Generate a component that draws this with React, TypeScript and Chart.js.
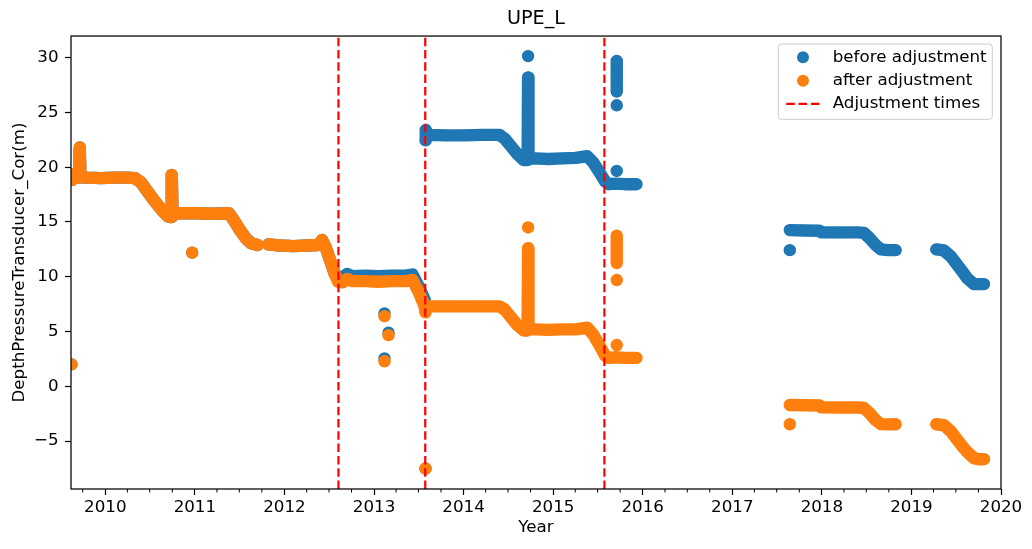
import React, { useEffect, useRef } from 'react';
import { Chart, registerables } from 'chart.js';

Chart.register(...registerables);

type Pt = [number, number];

// ---------- text ----------
const chartTitle = 'UPE_L';
const xAxisLabel = 'Year';
const yAxisLabel = 'DepthPressureTransducer_Cor(m)';
const seriesNames = ['before adjustment', 'after adjustment', 'Adjustment times'];

// ---------- axes ----------
const yearTicks = [2010, 2011, 2012, 2013, 2014, 2015, 2016, 2017, 2018, 2019, 2020];
const valueTicks = [-5, 0, 5, 10, 15, 20, 25, 30];
const X_MIN = 2009.617;
const X_MAX = 2020.0;
const Y_MIN = -9.37;
const Y_MAX = 31.97;

// ---------- adjustment times (decimal year) ----------
const adjustmentTimes = [2012.603, 2013.572, 2015.572];

// ---------- record identical in both series (before first adjustment) ----------
const sharedRecordA: Pt[] = [
  [2009.62, 19.35], [2009.628, 18.85], [2009.66, 19.1], [2009.705, 19.05], [2009.715, 21.8],
  [2009.722, 19.1], [2009.8, 19.05], [2009.95, 19.0], [2010.1, 19.05], [2010.25, 19.05],
  [2010.33, 19.0], [2010.4, 18.6], [2010.47, 17.8], [2010.55, 16.9], [2010.63, 16.1],
  [2010.7, 15.5], [2010.735, 15.45], [2010.742, 19.3], [2010.75, 15.8], [2010.85, 15.8],
  [2011.0, 15.8], [2011.2, 15.75], [2011.38, 15.8], [2011.44, 15.1], [2011.5, 14.3],
  [2011.57, 13.5], [2011.63, 13.05], [2011.7, 12.9],
];
const sharedRecordB: Pt[] = [
  [2011.82, 12.95], [2011.95, 12.85], [2012.1, 12.8], [2012.25, 12.85], [2012.38, 12.9],
  [2012.42, 13.35], [2012.46, 12.7], [2012.51, 11.5], [2012.56, 10.3],
];

// ---------- before adjustment ----------
const before2012: Pt[] = [
  [2012.6, 10.0], [2012.65, 9.95], [2012.7, 10.25], [2012.76, 10.05], [2012.9, 10.1],
  [2013.05, 10.05], [2013.2, 10.1], [2013.35, 10.1], [2013.43, 10.2], [2013.5, 9.1],
  [2013.565, 7.9],
];
const before2013to2015: Pt[] = [
  [2013.575, 22.45], [2013.578, 23.4], [2013.6, 22.95], [2013.8, 22.9], [2014.0, 22.9],
  [2014.2, 22.95], [2014.4, 22.95], [2014.46, 22.6], [2014.53, 21.9], [2014.6, 21.2],
  [2014.67, 20.65], [2014.715, 20.65], [2014.72, 28.2], [2014.725, 20.8], [2014.8, 20.8],
  [2014.95, 20.75], [2015.1, 20.8], [2015.25, 20.85], [2015.38, 21.0], [2015.45, 20.4],
  [2015.52, 19.5], [2015.58, 18.7], [2015.62, 18.45], [2015.7, 18.5], [2015.8, 18.45],
  [2015.93, 18.45],
];
const beforeSpike2015: Pt[] = [[2015.71, 29.7], [2015.71, 26.9]];
const before2017: Pt[] = [
  [2017.642, 14.26], [2017.8, 14.22], [2017.975, 14.2], [2017.995, 14.05], [2018.2, 14.05],
  [2018.4, 14.05], [2018.47, 14.0], [2018.53, 13.55], [2018.6, 12.9], [2018.66, 12.5],
  [2018.74, 12.43], [2018.823, 12.43],
];
const before2019: Pt[] = [
  [2019.278, 12.5], [2019.363, 12.4], [2019.44, 11.85], [2019.513, 11.07], [2019.57, 10.45],
  [2019.625, 9.85], [2019.698, 9.33], [2019.75, 9.33], [2019.81, 9.33],
];
const beforeIsolated: Pt[] = [
  [2009.622, 2.0], [2010.97, 12.2], [2013.117, 6.65], [2013.162, 4.9], [2013.117, 2.55],
  [2013.575, -7.5], [2014.72, 30.14], [2015.71, 25.65], [2015.71, 19.66], [2017.642, 12.43],
];

// ---------- after adjustment ----------
const after2012to2015: Pt[] = [
  [2012.6, 9.55], [2012.65, 9.5], [2012.7, 9.8], [2012.76, 9.6], [2012.9, 9.6],
  [2013.05, 9.55], [2013.2, 9.6], [2013.35, 9.6], [2013.43, 9.7], [2013.5, 8.6],
  [2013.565, 7.3], [2013.575, 6.75], [2013.59, 7.3], [2013.75, 7.3], [2013.95, 7.3],
  [2014.15, 7.3], [2014.4, 7.3], [2014.46, 7.0], [2014.53, 6.3], [2014.6, 5.6],
  [2014.67, 5.1], [2014.715, 5.1], [2014.72, 12.6], [2014.725, 5.2], [2014.8, 5.2],
  [2014.95, 5.15], [2015.1, 5.2], [2015.25, 5.2], [2015.38, 5.35], [2015.45, 4.7],
  [2015.52, 3.7], [2015.58, 2.8], [2015.62, 2.6], [2015.7, 2.65], [2015.8, 2.6],
  [2015.93, 2.6],
];
const afterSpike2015: Pt[] = [[2015.71, 13.75], [2015.71, 11.25]];
const after2017: Pt[] = [
  [2017.642, -1.7], [2017.8, -1.72], [2017.975, -1.75], [2017.995, -1.92], [2018.2, -1.93],
  [2018.4, -1.93], [2018.47, -1.98], [2018.53, -2.42], [2018.6, -3.08], [2018.66, -3.45],
  [2018.74, -3.47], [2018.823, -3.46],
];
const after2019: Pt[] = [
  [2019.278, -3.46], [2019.363, -3.55], [2019.44, -4.1], [2019.513, -4.89], [2019.57, -5.5],
  [2019.625, -6.0], [2019.698, -6.55], [2019.75, -6.65], [2019.81, -6.65],
];
const afterIsolated: Pt[] = [
  [2009.622, 2.0], [2010.97, 12.2], [2013.117, 6.4], [2013.162, 4.67], [2013.117, 2.29],
  [2013.575, -7.5], [2014.72, 14.5], [2015.71, 9.7], [2015.71, 3.77], [2017.642, -3.46],
];

const beforeSegments: Pt[][] = [
  sharedRecordA, [...sharedRecordB, ...before2012], before2013to2015, beforeSpike2015, before2017, before2019,
];
const afterSegments: Pt[][] = [
  sharedRecordA, [...sharedRecordB, ...after2012to2015], afterSpike2015, after2017, after2019,
];

// ---------- styles ----------
const BLUE = '#1f77b4';
const ORANGE = '#ff7f0e';
const RED = '#ff0000';
const FONT = "'DejaVu Sans', sans-serif";
const LABEL_SIZE = 16.7;
const MARKER_R = 5.7;
const BAND_W = 12.4;

type XY = { x: number; y: number | null };

function joinSegments(segments: Pt[][], isolated: Pt[]): XY[] {
  const all: Pt[][] = [...segments, ...isolated.map((p) => [p])];
  const out: XY[] = [];
  all.forEach((seg, i) => {
    if (i > 0) out.push({ x: seg[0][0], y: null });
    seg.forEach(([x, y]) => out.push({ x, y }));
  });
  return out;
}

function verticalLines(times: number[]): XY[] {
  const out: XY[] = [];
  times.forEach((t, i) => {
    if (i > 0) out.push({ x: t, y: null });
    out.push({ x: t, y: Y_MIN }, { x: t, y: Y_MAX });
  });
  return out;
}

function quarterValues(): number[] {
  const vals: number[] = [];
  for (let y = Math.floor(X_MIN); y <= Math.ceil(X_MAX); y++) {
    const start = Date.UTC(y, 0, 1);
    const len = Date.UTC(y + 1, 0, 1) - start;
    [3, 6, 9].forEach((m) => {
      const v = y + (Date.UTC(y, m, 1) - start) / len;
      if (v >= X_MIN && v <= X_MAX) vals.push(v);
    });
  }
  return vals;
}

const decorPlugin = {
  id: 'decor',
  afterDraw(chart: any) {
    const { ctx, chartArea: a, scales } = chart;
    ctx.save();
    // minor ticks (quarters)
    ctx.strokeStyle = '#000';
    ctx.lineWidth = 1;
    quarterValues().forEach((v) => {
      const px = scales.x.getPixelForValue(v);
      ctx.beginPath();
      ctx.moveTo(px, a.bottom);
      ctx.lineTo(px, a.bottom + 3.5);
      ctx.stroke();
    });
    // frame
    ctx.lineWidth = 1.25;
    ctx.strokeRect(a.left, a.top, a.right - a.left, a.bottom - a.top);

    // legend
    const bw = 214;
    const bh = 75.3;
    const bx = a.right - 8.7 - bw;
    const by = a.top + 8;
    const r = 3;
    ctx.beginPath();
    ctx.moveTo(bx + r, by);
    ctx.lineTo(bx + bw - r, by);
    ctx.arcTo(bx + bw, by, bx + bw, by + r, r);
    ctx.lineTo(bx + bw, by + bh - r);
    ctx.arcTo(bx + bw, by + bh, bx + bw - r, by + bh, r);
    ctx.lineTo(bx + r, by + bh);
    ctx.arcTo(bx, by + bh, bx, by + bh - r, r);
    ctx.lineTo(bx, by + r);
    ctx.arcTo(bx, by, bx + r, by, r);
    ctx.closePath();
    ctx.fillStyle = 'rgba(255,255,255,0.8)';
    ctx.fill();
    ctx.strokeStyle = '#cccccc';
    ctx.lineWidth = 1;
    ctx.stroke();

    const ds = chart.data.datasets;
    const rows = [13.3, 36.6, 59.9];
    ctx.font = `${LABEL_SIZE}px ${FONT}`;
    ctx.textBaseline = 'middle';
    ctx.textAlign = 'left';
    [0, 1, 2].forEach((i) => {
      const cy = by + rows[i];
      if (i < 2) {
        ctx.fillStyle = ds[i].borderColor;
        ctx.beginPath();
        ctx.arc(bx + 24.7, cy, 6, 0, Math.PI * 2);
        ctx.fill();
      } else {
        ctx.strokeStyle = ds[i].borderColor;
        ctx.lineWidth = 2.3;
        ctx.setLineDash([8.5, 3.8]);
        ctx.beginPath();
        ctx.moveTo(bx + 8, cy);
        ctx.lineTo(bx + 42, cy);
        ctx.stroke();
        ctx.setLineDash([]);
      }
      ctx.fillStyle = '#000';
      ctx.fillText(ds[i].label, bx + 54.4, cy);
    });
    ctx.restore();
  },
};

export default function App() {
  const canvasRef = useRef<HTMLCanvasElement | null>(null);

  useEffect(() => {
    document.body.style.margin = '0';
    const canvas = canvasRef.current;
    if (!canvas) return;

    const scatterStyle = (color: string) => ({
      borderColor: color,
      backgroundColor: color,
      pointBackgroundColor: color,
      pointBorderWidth: 0,
      pointRadius: MARKER_R,
      pointHoverRadius: MARKER_R,
      borderWidth: BAND_W,
      borderCapStyle: 'round' as const,
      borderJoinStyle: 'round' as const,
      tension: 0,
      fill: false,
      spanGaps: false,
      clip: 0,
    });

    const chart = new Chart(canvas, {
      type: 'line',
      data: {
        datasets: [
          { label: seriesNames[0], data: joinSegments(beforeSegments, beforeIsolated), order: 2, ...scatterStyle(BLUE) },
          { label: seriesNames[1], data: joinSegments(afterSegments, afterIsolated), order: 1, ...scatterStyle(ORANGE) },
          {
            label: seriesNames[2],
            data: verticalLines(adjustmentTimes),
            order: 0,
            borderColor: RED,
            backgroundColor: RED,
            borderWidth: 2.2,
            borderDash: [8.5, 3.8],
            pointRadius: 0,
            pointHoverRadius: 0,
            spanGaps: false,
            fill: false,
            clip: 0,
          },
        ] as any,
      },
      options: {
        animation: false,
        responsive: false,
        events: [],
        parsing: true,
        layout: { padding: { left: 0, right: 31, top: 0, bottom: 0 } },
        plugins: {
          legend: { display: false },
          tooltip: { enabled: false },
          title: {
            display: true,
            text: chartTitle,
            fullSize: false,
            color: '#000',
            font: { family: FONT, size: 19.2, weight: 'normal' },
            padding: { top: 7.6, bottom: 5.4 },
          },
        },
        scales: {
          x: {
            type: 'linear',
            min: X_MIN,
            max: X_MAX,
            afterBuildTicks: (s: any) => {
              s.ticks = yearTicks.map((v) => ({ value: v }));
            },
            afterFit: (s: any) => {
              s.height = 60;
            },
            ticks: {
              autoSkip: false,
              maxRotation: 0,
              padding: 2.5,
              color: '#000',
              font: { family: FONT, size: LABEL_SIZE },
              callback: (v: any) => String(v),
            },
            grid: { drawOnChartArea: false, drawTicks: true, tickLength: 6, tickColor: '#000', tickWidth: 1.2 },
            border: { display: false },
            title: {
              display: true,
              text: xAxisLabel,
              color: '#000',
              font: { family: FONT, size: LABEL_SIZE },
              padding: { top: 0, bottom: 11.5 },
            },
          },
          y: {
            type: 'linear',
            min: Y_MIN,
            max: Y_MAX,
            afterBuildTicks: (s: any) => {
              s.ticks = valueTicks.map((v) => ({ value: v }));
            },
            afterFit: (s: any) => {
              s.width = 71;
            },
            ticks: {
              padding: 6.5,
              color: '#000',
              font: { family: FONT, size: LABEL_SIZE },
              callback: (v: any) => (Number(v) < 0 ? '\u2212' + Math.abs(Number(v)) : String(v)),
            },
            grid: { drawOnChartArea: false, drawTicks: true, tickLength: 6, tickColor: '#000', tickWidth: 1.2 },
            border: { display: false },
            title: {
              display: true,
              text: yAxisLabel,
              color: '#000',
              font: { family: FONT, size: LABEL_SIZE },
              padding: { top: 9.7, bottom: 0 },
            },
          },
        },
      },
      plugins: [decorPlugin],
    });

    return () => chart.destroy();
  }, []);

  return (
    <div style={{ width: 1032, height: 549 }}>
      <canvas ref={canvasRef} width={1032} height={549} style={{ display: 'block' }} />
    </div>
  );
}
